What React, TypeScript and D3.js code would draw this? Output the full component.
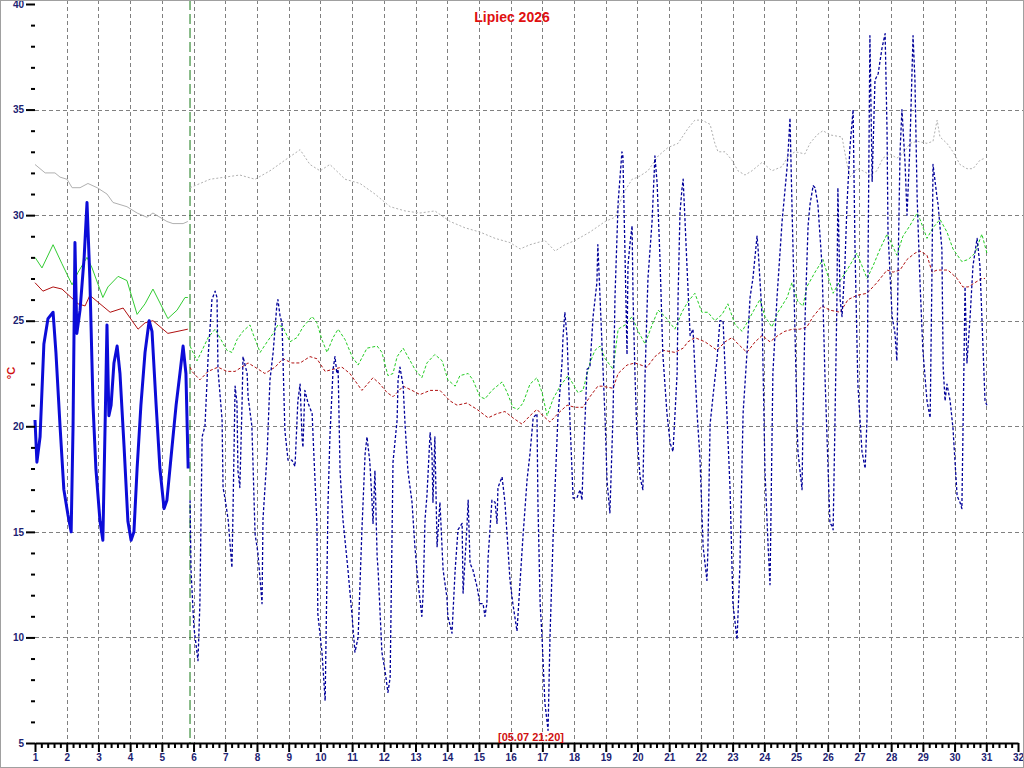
import React, { useEffect, useRef } from 'react';
import * as d3 from 'd3';

// [day of month (fractional), °C]
const airObs: [number, number][] = [
  [1.00, 20.3], [1.06, 18.3], [1.16, 19.5], [1.28, 23.9], [1.41, 25.1], [1.57, 25.4], [1.66, 23.5], [1.79, 20.0],
  [1.91, 17.0], [2.04, 15.8], [2.14, 15.0], [2.20, 20.0], [2.26, 28.7], [2.32, 24.4], [2.42, 25.5], [2.55, 28.0],
  [2.64, 30.6], [2.73, 27.0], [2.83, 21.0], [2.92, 18.0], [3.05, 15.5], [3.14, 14.6], [3.21, 20.0], [3.27, 24.8],
  [3.33, 20.5], [3.40, 21.0], [3.49, 23.0], [3.59, 23.8], [3.68, 22.5], [3.81, 19.0], [3.93, 15.5], [4.03, 14.6],
  [4.12, 15.0], [4.22, 18.0], [4.34, 21.0], [4.47, 23.5], [4.60, 25.0], [4.69, 24.5], [4.82, 21.0], [4.94, 18.0],
  [5.07, 16.1], [5.16, 16.5], [5.32, 19.0], [5.45, 21.0], [5.57, 22.5], [5.67, 23.8], [5.76, 22.5], [5.83, 18.0],
];

const airFcst: [number, number][] = [
  [5.89, 16.5], [5.92, 13.2], [6.01, 10.5], [6.14, 8.9], [6.20, 11.6], [6.27, 19.5], [6.36, 20.0], [6.46, 23.3],
  [6.58, 26.0], [6.68, 26.4], [6.74, 26.1], [6.77, 22.7], [6.90, 20.3], [6.93, 17.1], [6.99, 16.6], [7.09, 15.6],
  [7.21, 13.3], [7.24, 15.6], [7.31, 21.9], [7.37, 21.1], [7.40, 17.9], [7.46, 17.1], [7.53, 21.1], [7.56, 23.3],
  [7.69, 22.5], [7.72, 21.4], [7.84, 20.0], [7.94, 14.9], [8.03, 14.0], [8.16, 11.6], [8.19, 15.6], [8.32, 18.7],
  [8.41, 22.2], [8.51, 23.5], [8.63, 25.8], [8.66, 26.0], [8.73, 25.2], [8.79, 24.9], [8.88, 19.8], [8.98, 18.4],
  [9.10, 18.4], [9.20, 18.1], [9.29, 21.2], [9.36, 22.0], [9.42, 19.5], [9.45, 19.0], [9.51, 21.7], [9.61, 21.1],
  [9.74, 20.6], [9.77, 19.5], [9.89, 15.4], [9.92, 11.1], [10.05, 9.3], [10.15, 7.0], [10.24, 16.3], [10.30, 19.5],
  [10.40, 22.7], [10.46, 23.3], [10.52, 22.5], [10.56, 22.7], [10.62, 17.9], [10.71, 15.6], [10.87, 13.2], [11.00, 11.0],
  [11.09, 9.3], [11.19, 10.0], [11.31, 15.1], [11.41, 18.7], [11.47, 19.5], [11.56, 18.3], [11.63, 16.4], [11.66, 15.4],
  [11.72, 17.9], [11.79, 13.8], [11.82, 13.2], [11.94, 9.3], [12.04, 8.4], [12.13, 7.4], [12.20, 8.1], [12.29, 18.3],
  [12.42, 20.3], [12.45, 22.2], [12.51, 22.8], [12.61, 21.9], [12.67, 20.1], [12.76, 17.9], [12.89, 16.4], [12.98, 14.3],
  [13.08, 12.6], [13.20, 11.0], [13.24, 12.1], [13.30, 15.6], [13.36, 16.7], [13.46, 19.7], [13.52, 18.7], [13.55, 16.4],
  [13.61, 19.5], [13.68, 14.3], [13.77, 16.4], [13.87, 13.2], [13.99, 11.9], [14.02, 11.0], [14.15, 10.2], [14.25, 13.2],
  [14.34, 15.1], [14.47, 15.4], [14.50, 12.1], [14.62, 15.2], [14.66, 16.5], [14.72, 13.5], [14.81, 13.2], [14.94, 12.4],
  [15.03, 11.6], [15.13, 11.6], [15.19, 11.0], [15.25, 11.6], [15.29, 13.8], [15.41, 16.5], [15.51, 16.4], [15.57, 15.4],
  [15.60, 17.1], [15.73, 17.6], [15.82, 16.4], [15.89, 14.8], [15.98, 12.7], [16.07, 11.6], [16.20, 10.3], [16.30, 12.7],
  [16.39, 14.8], [16.52, 17.5], [16.61, 18.7], [16.71, 20.4], [16.83, 20.6], [16.86, 16.4], [16.93, 11.6], [16.99, 10.0],
  [17.08, 6.9], [17.18, 5.6], [17.24, 10.0], [17.34, 14.8], [17.40, 17.1], [17.49, 20.4], [17.62, 23.0], [17.65, 24.2],
  [17.71, 25.4], [17.78, 24.2], [17.87, 20.3], [17.97, 16.6], [18.09, 16.6], [18.19, 17.0], [18.25, 16.5], [18.28, 17.9],
  [18.41, 22.7], [18.50, 22.8], [18.60, 25.2], [18.72, 26.8], [18.75, 28.6], [18.88, 23.9], [18.98, 20.3], [19.04, 17.4],
  [19.13, 15.9], [19.23, 20.6], [19.29, 26.1], [19.39, 30.6], [19.51, 33.0], [19.54, 32.8], [19.61, 27.9], [19.67, 23.4],
  [19.70, 27.6], [19.76, 28.6], [19.83, 29.5], [19.86, 26.1], [19.92, 22.5], [19.98, 19.7], [20.08, 17.6], [20.17, 17.0],
  [20.24, 22.5], [20.33, 27.0], [20.46, 29.7], [20.55, 32.8], [20.62, 31.5], [20.71, 27.9], [20.80, 23.4], [20.93, 20.6],
  [21.03, 19.2], [21.12, 18.8], [21.25, 22.5], [21.28, 26.1], [21.34, 30.1], [21.40, 31.2], [21.44, 31.7], [21.50, 29.7],
  [21.56, 27.6], [21.66, 24.3], [21.75, 24.6], [21.88, 20.6], [21.97, 18.5], [22.07, 14.3], [22.19, 12.7], [22.22, 14.1],
  [22.29, 20.1], [22.38, 21.4], [22.51, 23.2], [22.60, 25.0], [22.70, 25.0], [22.82, 20.6], [22.92, 17.0], [22.98, 13.4],
  [23.01, 11.6], [23.14, 9.9], [23.23, 13.4], [23.33, 20.6], [23.45, 23.4], [23.55, 26.1], [23.64, 27.0], [23.77, 29.0],
  [23.80, 28.5], [23.93, 25.2], [24.02, 17.9], [24.12, 14.3], [24.18, 12.5], [24.27, 22.5], [24.40, 26.1], [24.56, 29.7],
  [24.72, 32.3], [24.75, 33.0], [24.81, 34.6], [24.87, 30.6], [24.97, 24.3], [25.03, 20.3], [25.06, 18.8], [25.19, 17.0],
  [25.22, 20.4], [25.28, 24.9], [25.38, 29.5], [25.44, 30.5], [25.54, 31.4], [25.60, 31.3], [25.69, 30.5], [25.82, 27.6],
  [25.91, 22.5], [26.01, 18.0], [26.07, 15.4], [26.13, 15.3], [26.17, 15.1], [26.23, 20.4], [26.29, 26.0], [26.32, 31.3],
  [26.39, 26.0], [26.45, 25.2], [26.54, 27.6], [26.61, 30.6], [26.70, 33.2], [26.80, 35.0], [26.86, 28.4], [26.95, 22.0],
  [27.08, 18.8], [27.18, 18.0], [27.24, 20.4], [27.27, 27.6], [27.33, 38.5], [27.40, 31.6], [27.43, 33.2], [27.49, 36.4],
  [27.59, 36.7], [27.71, 37.9], [27.81, 38.6], [27.87, 34.0], [27.90, 29.2], [28.03, 25.2], [28.12, 24.4], [28.18, 23.1],
  [28.22, 27.6], [28.28, 33.0], [28.34, 35.0], [28.44, 32.4], [28.50, 30.0], [28.59, 33.2], [28.69, 38.5], [28.75, 36.4],
  [28.82, 30.8], [28.91, 26.8], [29.00, 23.6], [29.13, 21.2], [29.23, 20.4], [29.29, 27.6], [29.32, 32.4], [29.45, 30.8],
  [29.48, 30.5], [29.60, 28.4], [29.64, 22.8], [29.70, 21.2], [29.76, 22.0], [29.86, 21.2], [29.95, 19.9], [30.08, 16.7],
  [30.17, 16.4], [30.23, 16.1], [30.33, 26.6], [30.39, 23.0], [30.49, 25.2], [30.58, 27.6], [30.71, 28.9], [30.80, 27.6],
  [30.86, 25.2], [30.96, 21.2], [31.02, 21.0],
];

const greenObs: [number, number][] = [
  [1.00, 28.0], [1.22, 27.5], [1.57, 28.6], [1.85, 27.7], [2.17, 26.7], [2.36, 27.3], [2.64, 28.0], [2.80, 27.5],
  [3.14, 26.1], [3.30, 26.6], [3.62, 27.1], [3.90, 26.9], [4.22, 25.3], [4.47, 25.8], [4.72, 26.5], [5.19, 25.1],
  [5.48, 25.5], [5.73, 26.1], [5.82, 26.1],
];

const greenFcst: [number, number][] = [
  [5.89, 23.8], [5.95, 23.6], [6.11, 23.1], [6.27, 23.6], [6.46, 24.2], [6.68, 24.6], [6.83, 24.2], [7.05, 23.6],
  [7.21, 23.5], [7.37, 24.1], [7.56, 24.5], [7.78, 24.8], [7.87, 24.4], [8.10, 23.5], [8.32, 24.0], [8.51, 24.4],
  [8.66, 24.8], [8.82, 24.7], [9.04, 24.0], [9.26, 24.2], [9.45, 24.7], [9.74, 25.2], [9.89, 24.9], [10.05, 24.1],
  [10.21, 23.5], [10.40, 24.2], [10.56, 24.6], [10.78, 24.1], [11.00, 23.3], [11.19, 22.9], [11.47, 23.7], [11.79, 23.8],
  [11.94, 23.5], [12.13, 22.4], [12.29, 22.5], [12.42, 23.3], [12.61, 23.7], [12.76, 23.3], [12.98, 22.7], [13.20, 22.3],
  [13.36, 23.0], [13.61, 23.4], [13.84, 23.1], [14.02, 22.2], [14.25, 21.9], [14.40, 22.4], [14.66, 22.5], [14.81, 22.2],
  [15.03, 21.4], [15.19, 21.3], [15.41, 21.7], [15.57, 21.9], [15.73, 22.1], [15.89, 21.6], [16.07, 20.9], [16.23, 20.8],
  [16.39, 21.1], [16.61, 22.0], [16.83, 22.3], [16.99, 21.6], [17.15, 20.5], [17.34, 21.3], [17.56, 21.9], [17.81, 22.4],
  [17.97, 22.0], [18.12, 21.6], [18.28, 21.7], [18.50, 23.0], [18.66, 23.6], [18.82, 23.8], [18.98, 23.2], [19.23, 22.7],
  [19.39, 24.6], [19.61, 24.8], [19.83, 25.2], [20.02, 24.5], [20.24, 23.9], [20.46, 24.8], [20.65, 25.5], [20.87, 25.2],
  [21.18, 24.6], [21.40, 25.4], [21.59, 25.9], [21.81, 26.3], [22.03, 25.4], [22.22, 25.4], [22.44, 25.0], [22.67, 25.3],
  [22.85, 25.8], [23.08, 24.8], [23.30, 24.5], [23.49, 25.0], [23.71, 25.6], [23.86, 26.0], [24.02, 25.2], [24.24, 24.7],
  [24.43, 25.4], [24.72, 26.1], [24.87, 26.8], [25.06, 25.9], [25.22, 25.7], [25.34, 26.6], [25.60, 27.3], [25.85, 27.9],
  [26.01, 27.1], [26.17, 26.3], [26.39, 26.9], [26.61, 27.4], [26.92, 28.2], [27.08, 27.6], [27.24, 27.0], [27.43, 27.6],
  [27.65, 28.4], [27.87, 29.1], [28.03, 28.6], [28.18, 28.1], [28.37, 29.0], [28.59, 29.5], [28.82, 30.1], [28.91, 29.8],
  [29.13, 28.9], [29.32, 29.4], [29.54, 29.8], [29.76, 29.2], [29.95, 28.4], [30.23, 27.8], [30.43, 27.9], [30.64, 28.2],
  [30.86, 29.1], [31.02, 28.2],
];

const redObs: [number, number][] = [
  [1.00, 26.8], [1.25, 26.4], [1.57, 26.6], [1.85, 26.5], [2.36, 25.8], [2.58, 25.7], [2.73, 26.2], [3.05, 25.8],
  [3.37, 25.4], [3.78, 25.6], [4.06, 25.0], [4.25, 24.6], [4.47, 24.9], [4.72, 25.0], [5.19, 24.4], [5.51, 24.5],
  [5.82, 24.6],
];

const redFcst: [number, number][] = [
  [5.89, 22.8], [5.95, 22.6], [6.20, 22.2], [6.46, 22.6], [6.77, 22.8], [7.05, 22.6], [7.31, 22.6], [7.72, 23.0],
  [7.94, 22.8], [8.25, 22.5], [8.57, 22.8], [8.82, 23.2], [9.10, 23.0], [9.36, 23.0], [9.67, 23.3], [9.89, 23.2],
  [10.15, 22.6], [10.40, 22.7], [10.68, 22.8], [10.93, 22.5], [11.31, 21.7], [11.66, 22.3], [11.88, 22.0], [12.10, 21.6],
  [12.29, 21.4], [12.42, 21.6], [12.61, 21.9], [12.89, 21.7], [13.14, 21.5], [13.46, 21.7], [13.77, 21.7], [14.09, 21.2],
  [14.31, 21.0], [14.62, 21.1], [14.94, 20.8], [15.29, 20.4], [15.57, 20.6], [15.82, 20.7], [16.07, 20.4], [16.36, 20.1],
  [16.61, 20.5], [16.83, 20.8], [17.02, 20.5], [17.24, 20.2], [17.49, 20.6], [17.78, 21.0], [18.03, 20.9], [18.28, 20.9],
  [18.50, 21.4], [18.75, 21.9], [18.88, 21.9], [19.23, 21.8], [19.39, 22.5], [19.67, 22.9], [19.92, 23.0], [20.30, 22.8],
  [20.55, 23.3], [20.80, 23.6], [21.18, 23.5], [21.44, 23.7], [21.59, 24.0], [21.81, 24.2], [22.13, 24.0], [22.51, 23.6],
  [22.76, 24.0], [22.98, 24.2], [23.17, 23.9], [23.45, 23.5], [23.71, 24.0], [23.93, 24.3], [24.18, 24.0], [24.43, 24.3],
  [24.65, 24.5], [24.90, 24.6], [25.12, 24.6], [25.34, 24.7], [25.54, 25.2], [25.82, 25.7], [26.07, 25.5], [26.39, 25.4],
  [26.64, 26.0], [26.92, 26.2], [27.24, 26.3], [27.55, 26.8], [27.87, 27.4], [28.06, 27.3], [28.28, 27.4], [28.50, 27.9],
  [28.75, 28.2], [28.91, 28.3], [29.13, 28.1], [29.29, 27.3], [29.45, 27.4], [29.60, 27.4], [29.79, 27.4], [30.08, 27.0],
  [30.26, 26.6], [30.43, 26.6], [30.64, 26.8], [30.86, 27.0], [30.96, 27.0],
];

const grayObs: [number, number][] = [
  [1.00, 32.4], [1.32, 32.0], [1.63, 32.0], [1.79, 31.8], [2.01, 31.7], [2.17, 31.3], [2.42, 31.3], [2.67, 31.5],
  [2.96, 31.3], [3.27, 31.0], [3.46, 30.6], [3.90, 30.4], [4.22, 30.1], [4.53, 29.9], [4.72, 30.1], [4.94, 29.9],
  [5.16, 29.7], [5.35, 29.6], [5.67, 29.6], [5.82, 29.7],
];

const grayFcst: [number, number][] = [
  [5.89, 31.3], [6.05, 31.4], [6.52, 31.7], [6.99, 31.8], [7.46, 31.9], [7.94, 31.7], [8.41, 32.1], [8.88, 32.6],
  [9.36, 33.1], [9.67, 32.4], [9.99, 32.1], [10.30, 32.4], [10.78, 31.7], [11.25, 31.5], [11.72, 31.0], [12.20, 30.4],
  [12.67, 30.2], [13.14, 30.1], [13.61, 30.2], [14.09, 29.7], [14.56, 29.4], [15.03, 29.2], [15.51, 28.9], [15.98, 28.7],
  [16.30, 28.4], [16.61, 28.6], [17.08, 28.8], [17.40, 28.3], [17.71, 28.6], [18.03, 28.8], [18.50, 29.2], [18.98, 29.7],
  [19.29, 29.9], [19.54, 31.0], [19.83, 31.7], [20.02, 31.8], [20.33, 32.1], [20.65, 32.8], [20.96, 33.2], [21.28, 33.4],
  [21.59, 34.1], [21.81, 34.5], [22.03, 34.5], [22.29, 34.3], [22.44, 33.4], [22.54, 33.0], [22.76, 33.0], [22.98, 32.6],
  [23.17, 32.1], [23.39, 31.9], [23.61, 32.1], [23.93, 32.5], [24.24, 32.1], [24.56, 32.3], [24.75, 32.8], [24.97, 33.0],
  [25.28, 32.9], [25.44, 33.4], [25.66, 33.8], [25.85, 34.0], [26.07, 33.8], [26.45, 33.7], [26.61, 32.4], [26.70, 31.8],
  [26.92, 32.2], [27.11, 32.1], [27.33, 31.9], [27.55, 32.1], [27.74, 32.7], [27.96, 32.9], [28.18, 32.7], [28.37, 32.9],
  [28.59, 33.4], [28.82, 33.5], [29.13, 33.4], [29.32, 33.5], [29.45, 34.5], [29.54, 33.7], [29.76, 33.4], [29.95, 33.0],
  [30.17, 32.4], [30.39, 32.2], [30.58, 32.2], [30.80, 32.6], [30.96, 32.7],
];

const dayTicks = d3.range(1, 33);
const tempMajor = [5, 10, 15, 20, 25, 30, 35, 40];
const gridTemps = [10, 15, 20, 25, 30, 35];
const nowDay = 5.889;
const title = 'Lipiec 2026';
const nowLabel = '[05.07 21:20]';

const W = 1024;
const H = 768;
const FONT = '"Liberation Sans", Arial, sans-serif';
const LABEL = '#1c2272';

function App() {
  const ref = useRef<SVGSVGElement | null>(null);

  useEffect(() => {
    const svg = d3.select(ref.current);
    svg.selectAll('*').remove();

    const x = d3.scaleLinear().domain([1, 32]).range([35, 1018]);
    const y = d3.scaleLinear().domain([5, 40]).range([743, 4]);

    svg.append('rect').attr('width', W).attr('height', H).attr('fill', '#fff');

    // grid
    svg.append('g').selectAll('line')
      .data(dayTicks.filter(d => d > 1 && d < 32))
      .enter().append('line')
      .attr('x1', d => Math.round(x(d)) + 0.5).attr('x2', d => Math.round(x(d)) + 0.5)
      .attr('y1', 0).attr('y2', y(5))
      .attr('stroke', '#808080').attr('stroke-dasharray', '4,3');
    svg.append('g').selectAll('line')
      .data(gridTemps)
      .enter().append('line')
      .attr('x1', x(1)).attr('x2', W)
      .attr('y1', d => Math.round(y(d)) + 0.5).attr('y2', d => Math.round(y(d)) + 0.5)
      .attr('stroke', '#808080').attr('stroke-dasharray', '4,3');

    // now marker
    svg.append('line')
      .attr('x1', x(nowDay)).attr('x2', x(nowDay))
      .attr('y1', 0).attr('y2', y(5))
      .attr('stroke', '#117711').attr('stroke-dasharray', '10,4');

    const line = d3.line<[number, number]>().x(d => x(d[0])).y(d => y(d[1]));

    const draw = (data: [number, number][], color: string, width: number, dash?: string) => {
      const p = svg.append('path').datum(data)
        .attr('d', line).attr('fill', 'none')
        .attr('stroke', color).attr('stroke-width', width)
        .attr('stroke-linejoin', 'round');
      if (dash) p.attr('stroke-dasharray', dash);
    };

    draw(grayObs, '#b0b0b0', 1);
    draw(grayFcst, '#b0b0b0', 1, '2,2');
    draw(greenObs, '#33cc33', 1);
    draw(greenFcst, '#22cc22', 1, '3,2');
    draw(redObs, '#b01010', 1);
    draw(redFcst, '#b01010', 1, '3,2');
    draw(airFcst, '#000099', 1.3, '3,2');
    draw(airObs, '#0c0cd8', 3);

    // x axis
    const minorDays = d3.range(1, 32, 0.2).filter(d => Math.abs(d - Math.round(d)) > 0.01);
    const xMinor = svg.append('g').attr('transform', `translate(0,${y(5)})`)
      .call(d3.axisBottom(x).tickValues(minorDays).tickSize(5).tickFormat(() => ''));
    xMinor.select('.domain').remove();
    const xAxis = svg.append('g').attr('transform', `translate(0,${y(5)})`)
      .call(d3.axisBottom(x).tickValues(dayTicks).tickSize(9).tickSizeOuter(0).tickPadding(2).tickFormat(d3.format('d')));
    xAxis.select('.domain').attr('stroke-width', 2);

    // y axis
    const minorTemps = d3.range(6, 40).filter(d => d % 5 !== 0);
    const yMinor = svg.append('g').attr('transform', `translate(${x(1)},0)`)
      .call(d3.axisLeft(y).tickValues(minorTemps).tickSize(4).tickFormat(() => ''));
    yMinor.select('.domain').remove();
    const yAxis = svg.append('g').attr('transform', `translate(${x(1)},0)`)
      .call(d3.axisLeft(y).tickValues(tempMajor).tickSize(9).tickPadding(2).tickFormat(d3.format('d')));
    yAxis.select('.domain').remove();

    svg.selectAll('.tick line').attr('stroke', '#000').attr('stroke-width', 2);
    svg.selectAll('.tick text')
      .attr('fill', LABEL).style('font-family', FONT).style('font-size', '10px').style('font-weight', 'bold');

    // texts
    svg.append('text').attr('x', 512).attr('y', 22).attr('text-anchor', 'middle')
      .attr('fill', '#e01010').style('font-family', FONT).style('font-size', '14px').style('font-weight', 'bold')
      .text(title);
    svg.append('text').attr('x', 531).attr('y', 741).attr('text-anchor', 'middle')
      .attr('fill', '#d01010').style('font-family', FONT).style('font-size', '11px').style('font-weight', 'bold')
      .text(nowLabel);
    svg.append('text').attr('transform', 'translate(15,373) rotate(-90)').attr('text-anchor', 'middle')
      .attr('fill', '#d01010').style('font-family', FONT).style('font-size', '11px').style('font-weight', 'bold')
      .text('°C');

    // frame
    svg.append('rect').attr('x', 0.5).attr('y', 0.5).attr('width', W - 1).attr('height', H - 1)
      .attr('fill', 'none').attr('stroke', '#a0a0a0');
  }, []);

  return (
    <svg ref={ref} width={W} height={H} style={{ position: 'absolute', left: 0, top: 0, display: 'block' }} />
  );
}

export default App;
